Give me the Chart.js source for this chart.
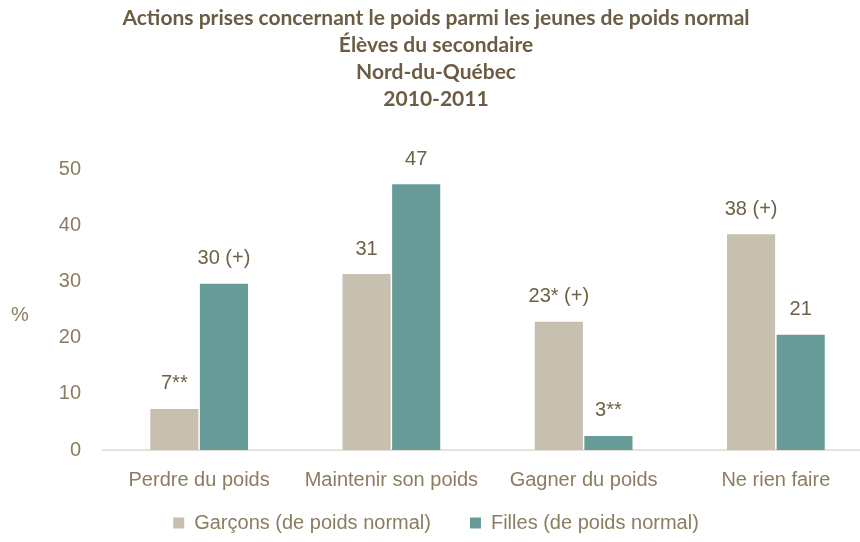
<!DOCTYPE html>
<html>
<head>
<meta charset="utf-8">
<script src="https://cdn.jsdelivr.net/npm/chart.js@4.4.1/dist/chart.umd.min.js"></script>
<style>
html,body{margin:0;padding:0;background:#fff;overflow:hidden;width:860px;height:542px;}
#wrap{position:absolute;left:0;top:0;width:872px;height:542px;}
</style>
</head>
<body>
<div id="wrap"><canvas id="c" width="872" height="542"></canvas></div>
<script>
const titleLines = ["Actions prises concernant le poids parmi les jeunes de poids normal","Élèves du secondaire","Nord-du-Québec","2010-2011"];
const categories = ["Perdre du poids","Maintenir son poids","Gagner du poids","Ne rien faire"];
const seriesNames = ["Garçons (de poids normal)","Filles (de poids normal)"];
const garcons = [7.3, 31.3, 22.8, 38.4];
const filles = [29.6, 47.3, 2.5, 20.5];
const garconsLabels = ["7**","31","23* (+)","38 (+)"];
const fillesLabels = ["30 (+)","47","3**","21"];
const yTicks = [0,10,20,30,40,50];

const tickColor = "#8b7d60";
const labelColor = "#6e6147";
const sans = "'Liberation Sans', Arial, sans-serif";
const fs = 20;

const valueLabels = {
  id: 'valueLabels',
  afterDatasetsDraw(chart) {
    const ctx = chart.ctx;
    const all = [garconsLabels, fillesLabels];
    ctx.save();
    ctx.font = fs + "px " + sans;
    ctx.fillStyle = labelColor;
    ctx.textAlign = "center";
    ctx.textBaseline = "middle";
    chart.data.datasets.forEach((ds, i) => {
      const meta = chart.getDatasetMeta(i);
      meta.data.forEach((bar, j) => {
        ctx.fillText(all[i][j], bar.x, bar.y - 25);
      });
    });
    // unrotated y-axis title
    ctx.fillStyle = tickColor;
    ctx.fillText("%", 20, 315);
    ctx.restore();
  }
};

new Chart(document.getElementById('c'), {
  type: 'bar',
  data: {
    labels: categories,
    datasets: [
      {label: seriesNames[0], data: garcons, backgroundColor: "#c8c0ae"},
      {label: seriesNames[1], data: filles, backgroundColor: "#679b98"}
    ]
  },
  options: {
    responsive: false,
    animation: false,
    layout: {padding: {left: 0, right: 0, top: 5, bottom: 8}},
    datasets: {bar: {categoryPercentage: 0.516, barPercentage: 0.97}},
    plugins: {
      title: {
        display: true,
        text: titleLines,
        color: "#6b5d43",
        font: {family: "Lato, 'Open Sans', sans-serif", size: 21, weight: 'bold', lineHeight: 1.286},
        padding: {top: 0, bottom: 56}
      },
      legend: {
        position: 'bottom',
        maxHeight: 60,
        labels: {
          color: tickColor,
          font: {family: sans, size: fs},
          boxWidth: 11, boxHeight: 11,
          padding: 39
        }
      },
      tooltip: {enabled: false}
    },
    scales: {
      x: {
        grid: {display: false, drawTicks: false},
        border: {display: true, color: "#e6e2da", width: 2},
        afterFit(axis) {
          axis.height = 24;
          axis._computeLabelArea = function () { return undefined; };
        },
        ticks: {color: tickColor, font: {family: sans, size: fs}, padding: 18, maxRotation: 0, autoSkip: false}
      },
      y: {
        min: 0, max: 50,
        afterBuildTicks(axis) { axis.ticks = yTicks.map(v => ({value: v})); },
        afterFit(axis) { axis.width = 103; },
        grid: {display: false, drawTicks: false},
        border: {display: false},
        ticks: {color: tickColor, font: {family: sans, size: fs}, padding: 22}
      }
    }
  },
  plugins: [valueLabels]
});
</script>
</body>
</html>
